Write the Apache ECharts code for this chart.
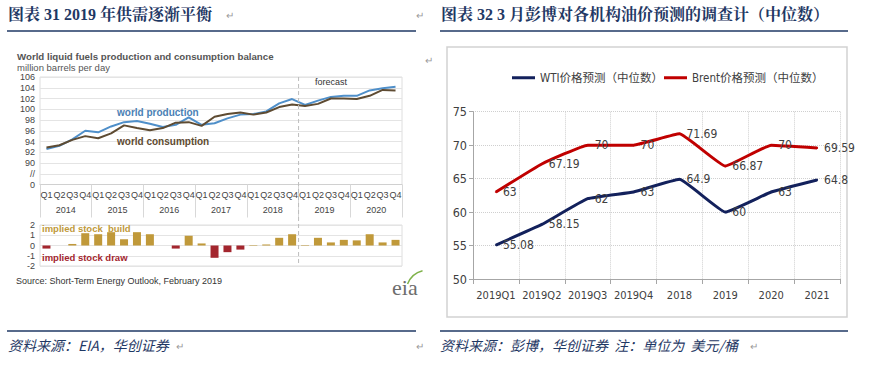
<!DOCTYPE html>
<html><head><meta charset="utf-8">
<script src="https://cdn.jsdelivr.net/npm/echarts@6/dist/echarts.min.js"></script>
<style>html,body{margin:0;padding:0;background:#fff}#c{width:877px;height:370px}</style>
</head><body><div id="c"></div><script>
// ---- Left chart data (EIA) ----
const years = ['2014','2015','2016','2017','2018','2019','2020'];
const quarterLabels = ['Q1','Q2','Q3','Q4'];
const production = [92.6,93.2,94.4,96.0,95.7,96.8,97.6,97.8,97.3,96.7,97.1,98.5,97.1,97.4,98.3,99.0,99.1,99.6,101.1,101.9,100.8,101.6,102.3,102.5,102.5,103.5,103.9,104.2];
const consumption = [92.9,93.3,94.3,95.0,94.6,95.5,97.0,96.5,96.1,96.5,97.5,97.6,96.9,98.6,99.1,99.4,99.0,99.4,100.4,100.9,100.6,101.0,102.0,102.0,101.9,102.5,103.6,103.5];
const stockChange = [-0.3,0,0.15,1.2,1.1,1.3,0.6,1.3,1.1,0,-0.3,0.95,0.2,-1.2,-0.65,-0.4,0.05,0.1,0.75,1.1,0.05,0.75,0.3,0.55,0.5,1.1,0.3,0.55];
const leftYTicks = {86:'0', 88:'//'};
const forecastStartIndex = 20;
// ---- Right chart data (Bloomberg survey) ----
const rightCats = ['2019Q1','2019Q2','2019Q3','2019Q4','2018','2019','2020','2021'];
const wti = [55.08,58.15,62,63,64.9,60,63,64.8];
const brent = [63,67.19,70,70,71.69,66.87,70,69.59];
const wtiName = 'WTI价格预测（中位数）';
const brentName = 'Brent价格预测（中位数）';

const quarterCats = [];
years.forEach(y => quarterLabels.forEach(q => quarterCats.push(y + ' ' + q)));

const EN = '"Liberation Sans", Arial, sans-serif';
const NARROW = '"Liberation Sans Narrow","DejaVu Sans Condensed","Arial Narrow","Liberation Sans","Noto Sans CJK SC", sans-serif';
const CJK = '"Noto Sans CJK SC", sans-serif';
const TITLE = '"Liberation Serif","Noto Serif CJK SC","Noto Sans CJK SC", serif';
const NAVY = '#1F3864';

const chart = echarts.init(document.getElementById('c'), null, {renderer:'svg'});

const option = {
  animation: false,
  backgroundColor: '#fff',
  grid: [
    {left: 40, top: 77, width: 362, height: 107.5, show: true, borderColor: '#dedede', borderWidth: 1, backgroundColor: 'transparent'},
    {left: 40, top: 225, width: 362, height: 41, show: true, borderColor: '#dedede', borderWidth: 1, backgroundColor: 'transparent'},
    {left: 473, top: 111.7, width: 367, height: 167.3}
  ],
  legend: [
    {data: [wtiName], left: 507, top: 67, icon: 'rect', itemWidth: 23, itemHeight: 3, selectedMode: false,
     textStyle: {fontSize: 11.5, color: '#404040', fontFamily: NARROW}},
    {data: [brentName], left: 659, top: 67, icon: 'rect', itemWidth: 23, itemHeight: 3, selectedMode: false,
     textStyle: {fontSize: 11.5, color: '#404040', fontFamily: NARROW}}
  ],
  xAxis: [
    {type: 'category', gridIndex: 0, data: quarterCats, boundaryGap: true,
     axisLine: {show: true, lineStyle: {color: '#d0d0d0'}}, axisTick: {show: false},
     axisLabel: {interval: 0, margin: 6, fontSize: 9, color: '#444', fontFamily: EN, formatter: v => v.split(' ')[1]},
     splitLine: {show: false}},
    {type: 'category', gridIndex: 0, data: years, position: 'bottom', boundaryGap: true,
     axisLine: {show: false}, axisTick: {show: true, length: 33, lineStyle: {color: '#d8d8d8'}},
     axisLabel: {interval: 0, margin: 21, fontSize: 9, color: '#444', fontFamily: EN},
     splitLine: {show: false}},
    {type: 'category', gridIndex: 1, data: quarterCats, boundaryGap: true,
     axisLine: {show: false}, axisTick: {show: false}, axisLabel: {show: false}, splitLine: {show: false}},
    {type: 'category', gridIndex: 2, data: rightCats, boundaryGap: true,
     axisLine: {show: true, lineStyle: {color: '#A6A6A6', width: 1}},
     axisTick: {show: true, length: 5, lineStyle: {color: '#A6A6A6'}},
     axisLabel: {interval: 0, margin: 11, fontSize: 11, color: '#404040', fontFamily: NARROW},
     splitLine: {show: true, lineStyle: {type: 'dotted', color: '#CFCFCF'}}}
  ],
  yAxis: [
    {type: 'value', gridIndex: 0, min: 86, max: 106, interval: 2,
     axisLine: {show: false}, axisTick: {show: false},
     axisLabel: {margin: 5, fontSize: 9, color: '#444', fontFamily: EN, formatter: v => leftYTicks[v] !== undefined ? leftYTicks[v] : String(v)},
     splitLine: {show: true, lineStyle: {color: '#e4e4e4'}}},
    {type: 'value', gridIndex: 1, min: -2, max: 2, interval: 1,
     axisLine: {show: false}, axisTick: {show: false},
     axisLabel: {margin: 5, fontSize: 9, color: '#444', fontFamily: EN},
     splitLine: {show: true, lineStyle: {color: '#e4e4e4'}}},
    {type: 'value', gridIndex: 2, min: 50, max: 75, interval: 5,
     axisLine: {show: true, lineStyle: {color: '#A6A6A6'}},
     axisTick: {show: true, length: 4, lineStyle: {color: '#A6A6A6'}},
     axisLabel: {margin: 6, fontSize: 12.5, color: '#404040', fontFamily: NARROW},
     splitLine: {show: true, lineStyle: {type: 'dotted', color: '#CFCFCF'}}}
  ],
  series: [
    {name: 'world production', type: 'line', xAxisIndex: 0, yAxisIndex: 0, data: production, symbol: 'none',
     lineStyle: {color: '#4F8FC9', width: 2}, itemStyle: {color: '#4F8FC9'}},
    {name: 'world consumption', type: 'line', xAxisIndex: 0, yAxisIndex: 0, data: consumption, symbol: 'none',
     lineStyle: {color: '#5E4B32', width: 2}, itemStyle: {color: '#5E4B32'}},
    {name: 'implied stock', type: 'bar', xAxisIndex: 2, yAxisIndex: 1, data: stockChange, barWidth: 8,
     itemStyle: {color: p => p.value < 0 ? '#A3262E' : '#C0993A'}},
    {name: wtiName, type: 'line', xAxisIndex: 3, yAxisIndex: 2, data: wti, symbol: 'circle', symbolSize: 2, showSymbol: true, smooth: 0.1,
     lineStyle: {color: '#13215C', width: 3}, itemStyle: {color: '#13215C'},
     label: {show: true, position: 'right', distance: 6, color: '#404040', fontSize: 12, fontFamily: NARROW}},
    {name: brentName, type: 'line', xAxisIndex: 3, yAxisIndex: 2, data: brent, symbol: 'circle', symbolSize: 2, showSymbol: true, smooth: 0.1,
     lineStyle: {color: '#C00000', width: 3}, itemStyle: {color: '#C00000'},
     label: {show: true, position: 'right', distance: 6, color: '#404040', fontSize: 12, fontFamily: NARROW}}
  ]
};
chart.setOption(option);

function txt(id, text, x, y, o) {
  return {type: 'text', id, z: 10, style: Object.assign({text, x, y, verticalAlign: 'middle', align: 'left', fill: '#333', fontSize: 10, fontFamily: EN}, o || {})};
}
function ln(id, x1, y1, x2, y2, stroke, w, dash) {
  return {type: 'line', id, z: 9, shape: {x1, y1, x2, y2}, style: {stroke, lineWidth: w, lineDash: dash || null}};
}
const px19 = chart.convertToPixel({xAxisIndex: 0}, quarterCats[forecastStartIndex - 1]);
const px20 = chart.convertToPixel({xAxisIndex: 0}, quarterCats[forecastStartIndex]);
const fx = (px19 + px20) / 2;
const yTop = chart.convertToPixel({yAxisIndex: 0}, 106);
const yBarBottom = chart.convertToPixel({yAxisIndex: 1}, -2);
const mark = {fill: '#9a9a9a', fontSize: 10, fontFamily: CJK};

const graphics = [
  {type: 'rect', id: 'frame', z: -1, shape: {x: 447, y: 47, width: 400, height: 270}, style: {fill: '#fff', stroke: '#D2D2D2', lineWidth: 1.5}},
  txt('t1', '图表 31 2019 年供需逐渐平衡', 8, 14, {fill: NAVY, fontSize: 16, fontWeight: 'bold', fontFamily: TITLE}),
  txt('t2', '图表 32 3 月彭博对各机构油价预测的调查计（中位数）', 441, 14, {fill: NAVY, fontSize: 16, fontWeight: 'bold', fontFamily: TITLE}),
  ln('l1', 7, 31, 416, 31, NAVY, 1.5),
  ln('l2', 440, 31, 848, 31, NAVY, 1.5),
  ln('l3', 7, 331, 416, 331, NAVY, 1.5),
  ln('l4', 440, 331, 848, 331, NAVY, 1.5),
  txt('f1', '资料来源：EIA，华创证券', 8, 345, {fill: NAVY, fontSize: 14, fontStyle: 'italic', fontFamily: CJK}),
  txt('f2', '资料来源：彭博，华创证券  注：单位为  美元/桶', 440, 345, {fill: NAVY, fontSize: 14, fontStyle: 'italic', fontFamily: CJK}),
  txt('m1', '↵', 226, 14, mark), txt('m2', '↵', 416, 14, mark), txt('m3', '↵', 425, 59, mark),
  txt('m4', '↵', 176, 345, mark), txt('m5', '↵', 416, 345, mark), txt('m6', '↵', 750, 345, mark),
  txt('e1', 'World liquid fuels production and consumption balance', 17, 56, {fill: '#555', fontSize: 9.7, fontWeight: 'bold'}),
  txt('e2', 'million barrels per day', 17, 67, {fill: '#555', fontSize: 9.5}),
  txt('e3', 'world production', 117, 112, {fill: '#4A7FB5', fontSize: 10, fontWeight: 'bold'}),
  txt('e4', 'world consumption', 117, 141, {fill: '#5E4B32', fontSize: 10, fontWeight: 'bold'}),
  txt('e5', 'forecast', 315, 82, {fill: '#333', fontSize: 9}),
  txt('e6', 'implied stock  build', 42, 228, {fill: '#C0993A', fontSize: 9.5, fontWeight: 'bold'}),
  txt('e7', 'implied stock draw', 42, 257.5, {fill: '#A3262E', fontSize: 9.5, fontWeight: 'bold'}),
  txt('e8', 'Source: Short-Term Energy Outlook, February 2019', 16, 281, {fill: '#333', fontSize: 9}),
  txt('e9', 'eia', 392, 287, {fill: '#6d6d6d', fontSize: 22, fontFamily: '"Liberation Serif", serif'}),
  {type: 'arc', id: 'e10', z: 10, shape: {cx: 428, cy: 292, r: 22, startAngle: Math.PI * 1.12, endAngle: Math.PI * 1.42}, style: {stroke: '#7fb24a', lineWidth: 1.5, fill: null}},
  ln('fc', fx, yTop, fx, yBarBottom, '#bdbdbd', 1, [4, 3])
];
chart.setOption({graphic: {elements: graphics}});
</script></body></html>
